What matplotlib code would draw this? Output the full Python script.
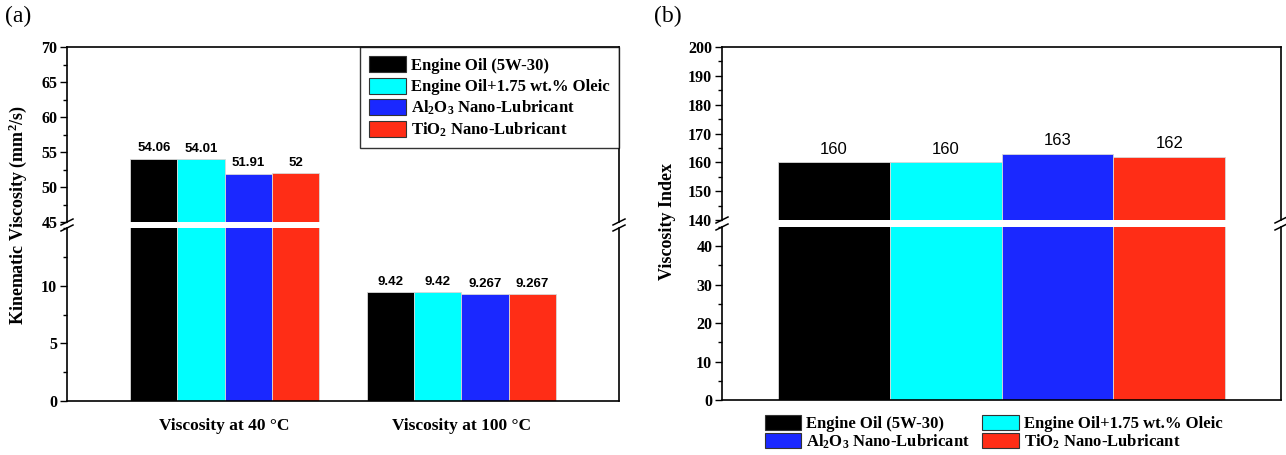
import numpy as np
import matplotlib.pyplot as plt
from matplotlib.ticker import MultipleLocator
from matplotlib.patches import Patch

plt.rcParams['font.family'] = ['Liberation Serif', 'DejaVu Serif']
plt.rcParams['font.weight'] = 'bold'
plt.rcParams['mathtext.fontset'] = 'custom'
plt.rcParams['mathtext.rm'] = 'Liberation Serif:bold'
plt.rcParams['mathtext.it'] = 'Liberation Serif:bold'
plt.rcParams['mathtext.bf'] = 'Liberation Serif:bold'

# data
samples = ['Engine Oil (5W-30)', 'Engine Oil+1.75 wt.% Oleic',
           r'Al$_2$O$_3$ Nano-Lubricant', r'TiO$_2$ Nano-Lubricant']
colors = ['#000000', '#00FFFF', '#1A28FF', '#FF2D16']
conditions = ['Viscosity at 40 °C', 'Viscosity at 100 °C']
visc_40 = [54.06, 54.01, 51.91, 52]
visc_100 = [9.42, 9.42, 9.267, 9.267]
visc_40_txt = ['54.06', '54.01', '51.91', '52']
visc_100_txt = ['9.42', '9.42', '9.267', '9.267']
vi = [160, 160, 163, 162]

W, H = 1286, 455
fig = plt.figure(figsize=(W / 100, H / 100), dpi=100)

def box(x0, y0, x1, y1):
    # pixel box (top-left origin) -> figure fraction rect
    return [x0 / W, 1 - y1 / H, (x1 - x0) / W, (y1 - y0) / H]

def style(ax, top):
    for s in ax.spines.values():
        s.set_linewidth(1.2)
    if top:
        ax.spines['bottom'].set_visible(False)
    else:
        ax.spines['top'].set_visible(False)
    ax.tick_params(axis='y', which='major', direction='out', length=5, width=1, labelsize=11.5, pad=2, right=False)
    ax.tick_params(axis='y', which='minor', direction='out', length=3, width=1, right=False)
    ax.tick_params(axis='x', length=0)

def brk(ax, where):
    # slanted break marks on both vertical spines
    y = 0 if where == 'bottom' else 1
    bb = ax.get_position()
    dx = 6 / (bb.width * W)
    dy = 3 / (bb.height * H)
    for x in (0, 1):
        ax.plot([x - dx, x + dx], [y - dy, y + dy], transform=ax.transAxes,
                color='black', lw=1.1, clip_on=False)

# ---- panel (a) ----
a_top = fig.add_axes(box(67, 47, 619, 222))
a_bot = fig.add_axes(box(67, 228, 619, 401))
grp = np.arange(len(conditions))
bw = 0.2
for i in range(len(samples)):
    vals = [visc_40[i], visc_100[i]]
    for ax in (a_top, a_bot):
        ax.bar(grp + (i - 1.5) * bw, vals, bw, color=colors[i],
               edgecolor='#d8d8d8', linewidth=0.6, label=samples[i])
    a_top.annotate(visc_40_txt[i], (grp[0] + (i - 1.5) * bw, visc_40[i]),
                   xytext=(0, 3), textcoords='offset points', ha='center', va='bottom',
                   family='Liberation Sans', fontsize=9.5, fontweight='bold')
    a_bot.annotate(visc_100_txt[i], (grp[1] + (i - 1.5) * bw, visc_100[i]),
                   xytext=(0, 3), textcoords='offset points', ha='center', va='bottom',
                   family='Liberation Sans', fontsize=9.5, fontweight='bold')

for ax in (a_top, a_bot):
    ax.set_xlim(-2 / 3, 5 / 3)
a_top.set_ylim(45, 70)
a_top.yaxis.set_major_locator(MultipleLocator(5))
a_top.yaxis.set_minor_locator(MultipleLocator(2.5))
a_top.set_xticks([])
a_bot.set_ylim(0, 15)
a_bot.set_yticks([0, 5, 10])
a_bot.yaxis.set_minor_locator(MultipleLocator(2.5))
a_bot.set_xticks(grp)
a_bot.set_xticklabels(conditions, fontsize=12.5)
a_bot.tick_params(axis='x', pad=12)
style(a_top, True)
style(a_bot, False)
brk(a_top, 'bottom')
brk(a_bot, 'top')

leg = a_top.legend(loc='upper right', borderaxespad=0, fontsize=12, frameon=True,
                   fancybox=False, edgecolor='black', handlelength=2.2,
                   handleheight=1.1, handletextpad=0.3, labelspacing=0.22,
                   borderpad=0.55)
leg.get_frame().set_linewidth(1.0)
for h in leg.legend_handles:
    h.set_edgecolor('#333333')
    h.set_linewidth(0.8)

fig.text(18 / W, 1 - 215 / H, 'Kinematic Viscosity (mm$^2$/s)', rotation=90,
         ha='center', va='center', fontsize=13)
fig.text(5 / W, 1 - 6 / H, '(a)', ha='left', va='top', fontsize=17, fontweight='normal')

# ---- panel (b) ----
b_top = fig.add_axes(box(722, 47, 1281, 220))
b_bot = fig.add_axes(box(722, 227, 1281, 400))
xs = np.arange(len(samples))
for ax in (b_top, b_bot):
    ax.bar(xs, vi, 1.0, color=colors, edgecolor='#d8d8d8', linewidth=0.6)
    ax.set_xlim(-1, 4)
    ax.set_xticks([])
for x, v in zip(xs, vi):
    b_top.annotate(str(v), (x, v), xytext=(0, 4), textcoords='offset points',
                   ha='center', va='bottom', family='Liberation Sans',
                   fontsize=12, fontweight='normal')
b_top.set_ylim(140, 200)
b_top.yaxis.set_major_locator(MultipleLocator(10))
b_top.yaxis.set_minor_locator(MultipleLocator(5))
b_bot.set_ylim(0, 45)
b_bot.set_yticks([0, 10, 20, 30, 40])
b_bot.yaxis.set_minor_locator(MultipleLocator(5))
style(b_top, True)
style(b_bot, False)
brk(b_top, 'bottom')
brk(b_bot, 'top')

handles = [Patch(facecolor=c, edgecolor='#333333', linewidth=0.8) for c in colors]
order = [0, 2, 1, 3]
fig.legend([handles[k] for k in order], [samples[k] for k in order],
           ncol=2, frameon=False, fontsize=12, loc='upper left',
           bbox_to_anchor=(753 / W, 1 - 403 / H), handlelength=2.2,
           handleheight=1.0, handletextpad=0.3, labelspacing=0.05,
           columnspacing=0.7, borderpad=0.2)

fig.text(667 / W, 1 - 221 / H, 'Viscosity Index', rotation=90,
         ha='center', va='center', fontsize=13)
fig.text(654 / W, 1 - 6 / H, '(b)', ha='left', va='top', fontsize=17, fontweight='normal')

fig.savefig('out.png', dpi=100)
